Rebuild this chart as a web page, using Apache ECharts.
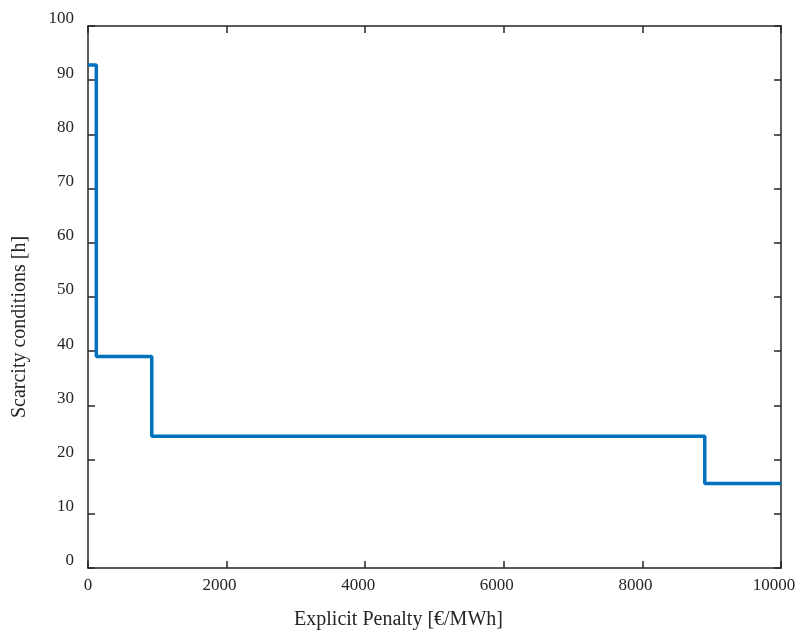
<!DOCTYPE html>
<html>
<head>
<meta charset="utf-8">
<script src="https://cdn.jsdelivr.net/npm/echarts@6/dist/echarts.min.js"></script>
<style>
  html, body { margin: 0; padding: 0; background: #fff; }
  #chart { width: 798px; height: 630px; }
</style>
</head>
<body>
<div id="chart"></div>
<script>
// step points: penalty [€/MWh] -> scarcity hours
const penalty = [0, 120, 920, 8900, 10000];
const scarcityHours = [92.8, 39.0, 24.3, 15.6, 15.6];

const xTicks = { min: 0, max: 10000, interval: 2000 };
const yTicks = { min: 0, max: 100, interval: 10 };

const FONT = 'Liberation Serif';
const INK = '#262626';

const chart = echarts.init(document.getElementById('chart'));

const axisLine = { show: true, onZero: false, lineStyle: { color: INK, width: 1.5 } };
const axisTick = { show: true, inside: true, length: 7, lineStyle: { color: INK, width: 1.5 } };

chart.setOption({
  animation: false,
  grid: { left: 88, right: 17, top: 26, bottom: 62, outerBoundsMode: 'none', containLabel: false },
  xAxis: [
    {
      type: 'value',
      min: xTicks.min, max: xTicks.max, interval: xTicks.interval,
      axisLine: axisLine,
      axisTick: axisTick,
      splitLine: { show: false },
      axisLabel: {
        fontFamily: FONT, fontSize: 17, color: INK, margin: 9,
        formatter: v => v === 0 ? '{z|0}' : '{n|' + v + '}',
        rich: {
          z: { fontFamily: FONT, fontSize: 17, color: INK },
          n: { fontFamily: FONT, fontSize: 17, color: INK, padding: [0, 14, 0, 0] }
        }
      },
      name: 'Explicit Penalty [€/MWh]',
      nameLocation: 'middle',
      nameGap: 42,
      nameTextStyle: { fontFamily: FONT, fontSize: 20, color: INK, padding: [0, 72, 0, 0] }
    },
    {
      type: 'value', position: 'top',
      min: xTicks.min, max: xTicks.max, interval: xTicks.interval,
      axisLine: axisLine, axisTick: axisTick,
      axisLabel: { show: false }, splitLine: { show: false }
    }
  ],
  yAxis: [
    {
      type: 'value',
      min: yTicks.min, max: yTicks.max, interval: yTicks.interval,
      axisLine: axisLine,
      axisTick: axisTick,
      splitLine: { show: false },
      axisLabel: { fontFamily: FONT, fontSize: 17, color: INK, margin: 14, verticalAlign: 'bottom', lineHeight: 14 },
      name: 'Scarcity conditions [h]',
      nameLocation: 'middle',
      nameGap: 58,
      nameTextStyle: { fontFamily: FONT, fontSize: 20, color: INK, padding: [0, 60, 0, 0] }
    },
    {
      type: 'value', position: 'right',
      min: yTicks.min, max: yTicks.max, interval: yTicks.interval,
      axisLine: axisLine, axisTick: axisTick,
      axisLabel: { show: false }, splitLine: { show: false }
    }
  ],
  series: [
    {
      type: 'line',
      step: 'end',
      data: penalty.map((p, i) => [p, scarcityHours[i]]),
      showSymbol: false,
      lineStyle: { color: '#0072BD', width: 3.5 },
      clip: false
    }
  ]
});
</script>
</body>
</html>
